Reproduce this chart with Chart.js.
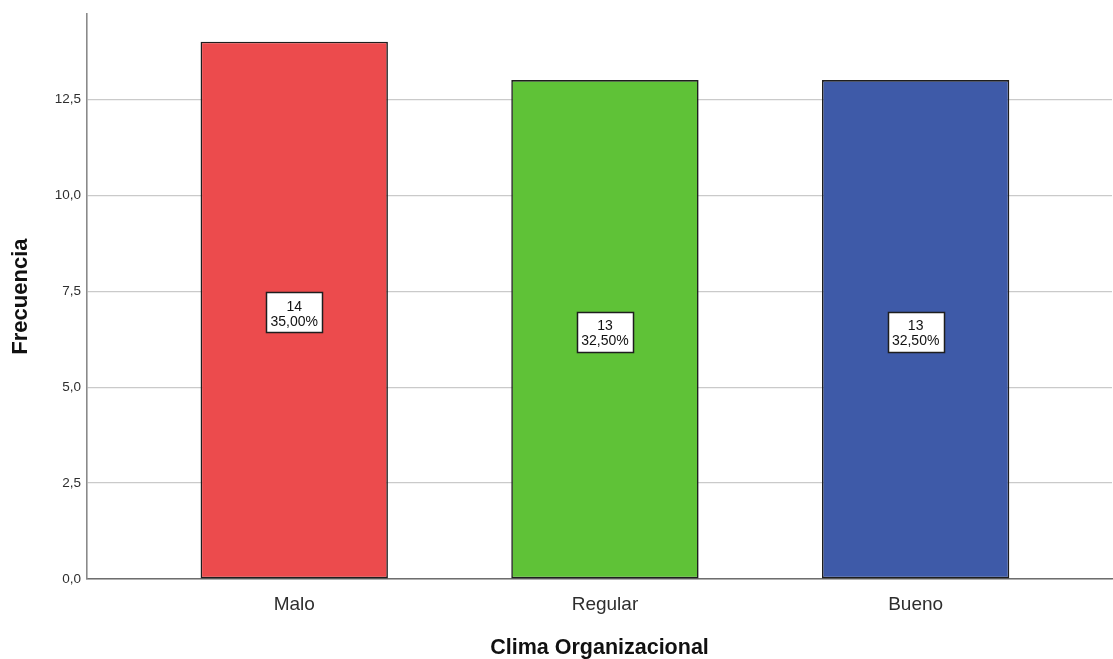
<!DOCTYPE html>
<html>
<head>
<meta charset="utf-8">
<script src="https://cdn.jsdelivr.net/npm/chart.js@4/dist/chart.umd.min.js"></script>
<style>
  html, body { margin: 0; padding: 0; background: #ffffff; }
  #wrap { width: 1113px; height: 659px; position: relative; }
</style>
</head>
<body>
<div id="wrap"><canvas id="c" width="1113" height="659"></canvas></div>
<script>
// Clima Organizacional – frecuencias por categoría
const categories = ['Malo', 'Regular', 'Bueno'];
const counts = [14, 13, 13];
const barColors = ['#ec4b4d', '#5fc237', '#3e5aa8'];
const yTicks = [0, 2.5, 5, 7.5, 10, 12.5];

const total = counts.reduce((a, b) => a + b, 0);
const fmt = (v, d) => v.toFixed(d).replace('.', ',');
const FONT = "'Liberation Sans', Arial, sans-serif";

// Boxed "n / %" labels in the middle of each bar
const boxLabels = {
  id: 'boxLabels',
  afterDatasetsDraw(chart) {
    const ctx = chart.ctx;
    const meta = chart.getDatasetMeta(0);
    const yScale = chart.scales.y;
    meta.data.forEach((bar, i) => {
      const cx = bar.x;
      const cy = yScale.getPixelForValue(counts[i] / 2);
      const w = 56, h = 40;
      const x0 = Math.round(cx - w / 2) + 0.5, y0 = Math.round(cy - 18) + 0.5;
      ctx.save();
      ctx.fillStyle = '#ffffff';
      ctx.fillRect(x0, y0, w, h);
      ctx.strokeStyle = '#1e1e1e';
      ctx.lineWidth = 1.5;
      ctx.strokeRect(x0, y0, w, h);
      ctx.fillStyle = '#111111';
      ctx.font = '14px ' + FONT;
      ctx.textAlign = 'center';
      ctx.textBaseline = 'middle';
      ctx.fillText(String(counts[i]), cx, cy - 3);
      ctx.fillText(fmt(counts[i] / total * 100, 2) + '%', cx, cy + 11.5);
      ctx.restore();
    });
  }
};

new Chart(document.getElementById('c'), {
  type: 'bar',
  data: {
    datasets: [{
      data: counts.map((v, i) => ({ x: i, y: v })),
      backgroundColor: barColors,
      borderColor: '#1e1e1e',
      borderWidth: 1.6,
      borderSkipped: false,
      categoryPercentage: 1,
      barPercentage: 0.603
    }]
  },
  options: {
    responsive: false,
    animation: false,
    events: [],
    layout: { padding: { left: 0, top: 13, right: 1, bottom: 0 } },
    plugins: { legend: { display: false }, tooltip: { enabled: false } },
    scales: {
      x: {
        type: 'linear',
        offset: false,
        bounds: 'data',
        min: -0.667,
        max: 2.632,
        afterBuildTicks(scale) { scale.ticks = categories.map((_, i) => ({ value: i })); },
        afterFit(scale) { scale.height = 80; },
        grid: { display: false, drawTicks: false, offset: false },
        border: { display: true, color: '#6e6e6e', width: 1.6 },
        ticks: {
          padding: 14,
          autoSkip: false,
          maxRotation: 0,
          color: '#2e2e2e',
          font: { family: FONT, size: 19 },
          callback: (v) => categories[v]
        },
        title: {
          display: true,
          text: 'Clima Organizacional',
          color: '#111111',
          font: { family: FONT, size: 21.5, weight: 'bold', lineHeight: 1 },
          padding: { top: 0, bottom: 0 }
        }
      },
      y: {
        min: 0,
        max: 14.72,
        afterBuildTicks(scale) { scale.ticks = yTicks.map(v => ({ value: v })); },
        afterFit(scale) { scale.width = 87; },
        grid: { color: '#cacaca', lineWidth: 1.2, drawTicks: false },
        border: { display: true, color: '#8a8a8a', width: 1.6 },
        ticks: {
          padding: 6,
          color: '#2e2e2e',
          font: { family: FONT, size: 13.5 },
          callback: (v) => fmt(v, 1)
        },
        title: {
          display: true,
          text: 'Frecuencia',
          color: '#111111',
          font: { family: FONT, size: 22, weight: 'bold', lineHeight: 1 },
          padding: { top: 10, bottom: 0 }
        }
      }
    }
  },
  plugins: [boxLabels]
});
</script>
</body>
</html>
